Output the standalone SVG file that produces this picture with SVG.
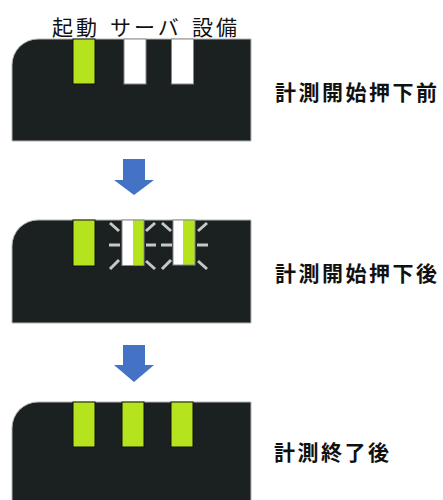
<svg xmlns="http://www.w3.org/2000/svg" width="443" height="500" viewBox="0 0 443 500">
<style>
.panel{fill:#1b2021;stroke:#b4b4b4;stroke-width:1}
.on{fill:#b5e31e;stroke:#111;stroke-width:1}
.off{fill:#ffffff;stroke:#888;stroke-width:1}
.ray{stroke:#c8c8c8;stroke-width:3;stroke-linecap:butt}
.arrow{fill:#4472c4}
.lbl{font-family:"Noto Sans CJK JP","Noto Sans",sans-serif;font-size:21px;letter-spacing:3px;fill:#111}
.state{font-family:"Noto Sans CJK JP","Noto Sans",sans-serif;font-size:21px;font-weight:bold;letter-spacing:2.5px;fill:#111}
</style>
<rect width="443" height="500" fill="#ffffff"/>
<g id="header">
<text class="lbl" x="52" y="34.5">起動</text>
<text class="lbl" x="110" y="34.5">サーバ</text>
<text class="lbl" x="192" y="34.5">設備</text>
</g>
<g id="panel-before">
<path class="panel" d="M12,141 V65 A26,26 0 0 1 38,39 H251 V141 Z"/>
<rect class="on" x="73" y="39" width="22" height="45"/>
<rect class="off" x="124" y="39" width="22" height="45"/>
<rect class="off" x="171.5" y="39" width="22" height="45"/>
</g>
<g id="label-before"><text class="state" x="275" y="100">計測開始押下前</text></g>
<g id="panel-after">
<path class="panel" d="M12,323 V246 A26,26 0 0 1 38,220 H251 V323 Z"/>
<rect class="on" x="73" y="220" width="22" height="46"/>
<rect x="122" y="220" width="22" height="45.5" fill="#ffffff"/>
<rect x="133" y="220" width="11" height="45.5" fill="#b5e31e"/>
<rect x="122" y="220" width="22" height="45.5" fill="none" stroke="#888" stroke-width="1"/>
<rect x="173" y="220" width="22" height="45" fill="#ffffff"/>
<rect x="183" y="220" width="12" height="45" fill="#b5e31e"/>
<rect x="173" y="220" width="22" height="45" fill="none" stroke="#888" stroke-width="1"/>
<g id="rays">
<line class="ray" x1="109" y1="245" x2="120" y2="245"/>
<line class="ray" x1="110" y1="223" x2="119" y2="231"/>
<line class="ray" x1="110" y1="269" x2="119" y2="260"/>
<line class="ray" x1="146" y1="245" x2="156" y2="245"/>
<line class="ray" x1="146" y1="231" x2="155" y2="223"/>
<line class="ray" x1="146" y1="261" x2="155" y2="269"/>
<line class="ray" x1="161" y1="245" x2="172" y2="245"/>
<line class="ray" x1="162" y1="223" x2="171" y2="231"/>
<line class="ray" x1="162" y1="269" x2="171" y2="260"/>
<line class="ray" x1="197" y1="245" x2="208" y2="245"/>
<line class="ray" x1="198" y1="231" x2="207" y2="223"/>
<line class="ray" x1="198" y1="261" x2="207" y2="269"/>
</g>
</g>
<g id="label-after"><text class="state" x="275" y="281">計測開始押下後</text></g>
<g id="panel-end">
<path class="panel" d="M12,501 V428 A26,26 0 0 1 38,402 H251 V501 Z"/>
<rect class="on" x="73" y="402" width="22" height="45"/>
<rect class="on" x="122" y="402" width="22" height="45"/>
<rect class="on" x="171" y="402" width="22" height="45"/>
</g>
<g id="label-end"><text class="state" x="274" y="460">計測終了後</text></g>
<g id="connectors">
<path class="arrow" d="M123,159 H145 V180 H154 L134,195 L114,180 H123 Z"/>
<path class="arrow" d="M123,345 H145 V365 H154 L134,382 L114,365 H123 Z"/>
</g>
</svg>
